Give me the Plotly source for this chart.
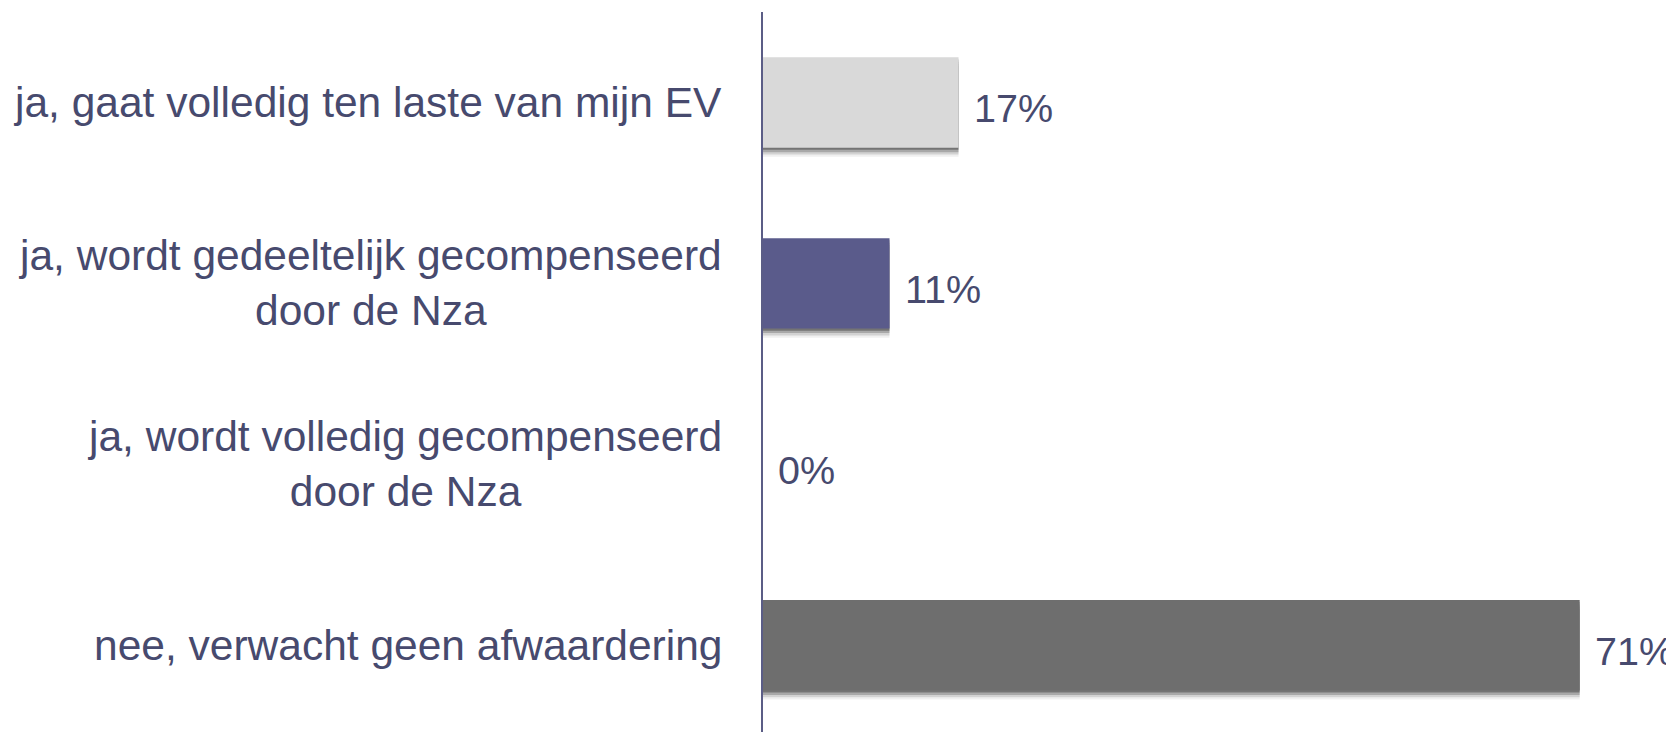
"""Horizontal bar chart: expected write-down of equity (EV)."""

import plotly.graph_objects as go

categories = [
    "ja, gaat volledig ten laste van mijn EV",
    "ja, wordt gedeeltelijk gecompenseerd<br>door de Nza",
    "ja, wordt volledig gecompenseerd<br>door de Nza",
    "nee, verwacht geen afwaardering",
]
values = [17, 11, 0, 71]
value_labels = ["17%", "11%", "0%", "71%"]
bar_colors = ["#d9d9d9", "#5a5b8b", "#5a5b8b", "#6e6e6e"]

text_color = "#474a6e"
font_family = "Liberation Sans, Arial, sans-serif"

fig = go.Figure()

# soft drop shadow under each bar (faded layers shifted down)
for shift, alpha in [(0.012, 0.3), (0.025, 0.2), (0.038, 0.12), (0.05, 0.06)]:
    fig.add_trace(
        go.Bar(
            x=values,
            y=list(range(len(categories))),
            orientation="h",
            width=0.5,
            offset=-0.25 + shift,
            marker=dict(color=f"rgba(0,0,0,{alpha})", line=dict(width=0)),
            hoverinfo="skip",
            showlegend=False,
        )
    )

fig.add_trace(
    go.Bar(
        x=values,
        y=list(range(len(categories))),
        orientation="h",
        width=0.5,
        marker=dict(color=bar_colors, line=dict(width=0)),
        showlegend=False,
    )
)

annotations = []
for i, (cat, val, lab) in enumerate(zip(categories, values, value_labels)):
    # category label, centred block to the left of the axis
    annotations.append(
        dict(
            x=0,
            y=i,
            xref="x",
            yref="y",
            text=cat,
            xanchor="right",
            yanchor="middle",
            align="center",
            xshift=-39,
            showarrow=False,
            font=dict(size=42.5, color=text_color, family=font_family),
        )
    )
    # value label just past the bar end
    annotations.append(
        dict(
            x=val,
            y=i,
            xref="x",
            yref="y",
            text=lab,
            xanchor="left",
            yanchor="middle",
            xshift=13,
            yshift=-6,
            showarrow=False,
            font=dict(size=39.5, color=text_color, family=font_family),
        )
    )

fig.update_layout(
    barmode="overlay",
    width=1666,
    height=724,
    plot_bgcolor="white",
    paper_bgcolor="white",
    margin=dict(l=755, r=0, t=4, b=0),
    annotations=annotations,
    xaxis=dict(
        range=[0, 79.2],
        showgrid=False,
        zeroline=False,
        showline=False,
        showticklabels=False,
    ),
    yaxis=dict(
        range=[3.48, -0.5],
        showgrid=False,
        zeroline=False,
        showline=True,
        linecolor="#5b5d86",
        linewidth=1.5,
        showticklabels=False,
        ticks="",
    ),
)

fig.write_html("out.html")
